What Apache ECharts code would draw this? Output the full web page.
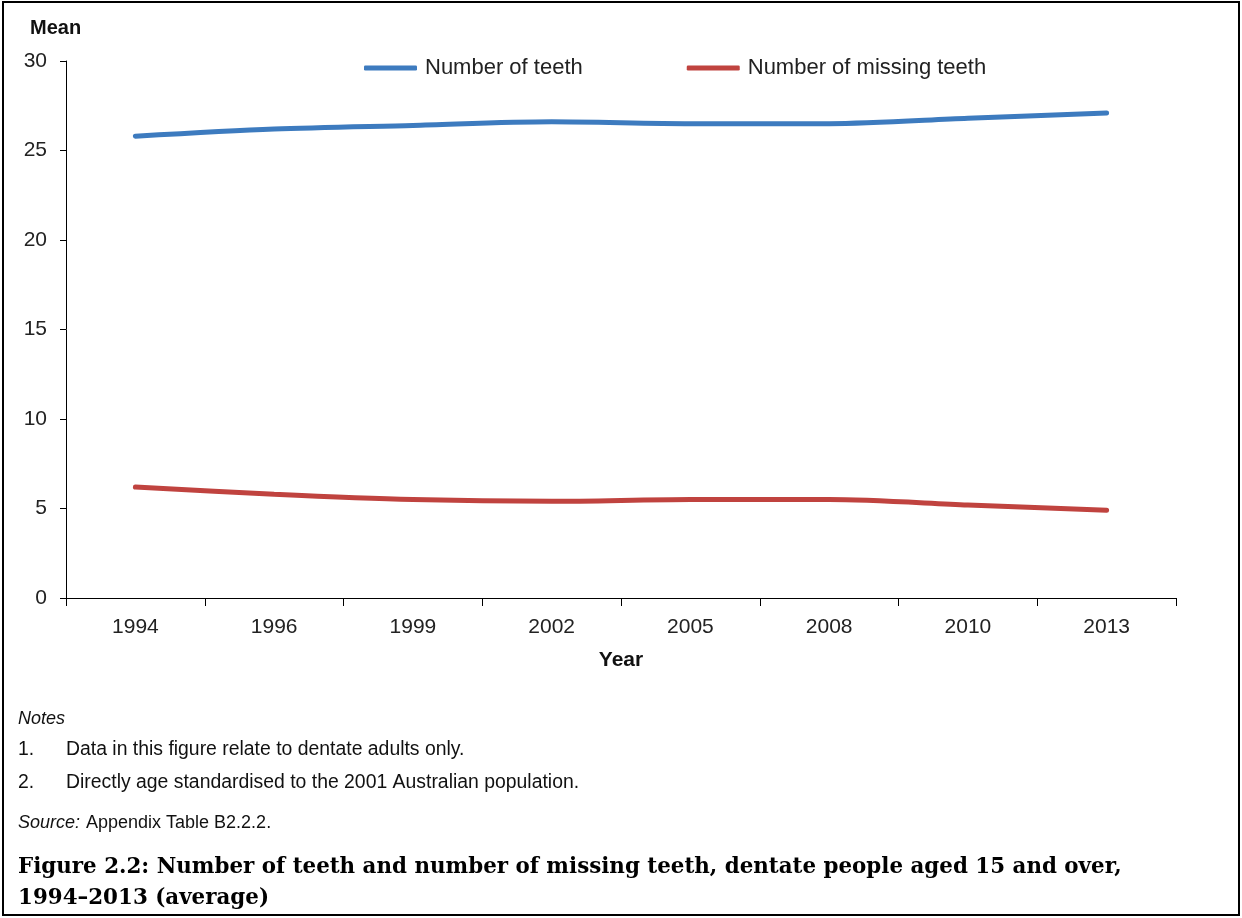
<!DOCTYPE html>
<html>
<head>
<meta charset="utf-8">
<script src="https://cdn.jsdelivr.net/npm/echarts@6/dist/echarts.min.js"></script>
<style>
  html, body { margin: 0; padding: 0; background: #fff; }
  #chart { width: 1242px; height: 918px; }
</style>
</head>
<body>
<div id="chart"></div>
<script>
const years = ['1994', '1996', '1999', '2002', '2005', '2008', '2010', '2013'];
const numberOfTeeth = [25.8, 26.2, 26.4, 26.6, 26.5, 26.5, 26.8, 27.1];
const numberOfMissingTeeth = [6.2, 5.8, 5.5, 5.4, 5.5, 5.5, 5.2, 4.9];
const seriesNames = ['Number of teeth', 'Number of missing teeth'];
const notes = [
  'Data in this figure relate to dentate adults only.',
  'Directly age standardised to the 2001 Australian population.'
];
const captionLines = [
  'Figure 2.2: Number of teeth and number of missing teeth, dentate people aged 15 and over,',
  '1994\u20132013 (average)'
];

const FONT = '"Liberation Sans", Arial, sans-serif';
const chart = echarts.init(document.getElementById('chart'), null, { renderer: 'canvas' });

const graphics = [
  { type: 'rect', shape: { x: 3, y: 2, width: 1236, height: 913 }, style: { fill: 'none', stroke: '#000', lineWidth: 2 }, silent: true },
  { type: 'text', x: 30, y: 28, style: { text: 'Mean', font: 'bold 20px ' + FONT, fill: '#111', textVerticalAlign: 'middle', verticalAlign: 'middle' } },
  { type: 'text', x: 18, y: 719, style: { text: 'Notes', font: 'italic 18px ' + FONT, fill: '#111', textVerticalAlign: 'middle', verticalAlign: 'middle' } }
];
notes.forEach(function (n, i) {
  const y = 750 + i * 33;
  graphics.push({ type: 'text', x: 18, y: y, style: { text: (i + 1) + '.', font: '19.4px ' + FONT, fill: '#111', textVerticalAlign: 'middle', verticalAlign: 'middle' } });
  graphics.push({ type: 'text', x: 66, y: y, style: { text: n, font: '19.4px ' + FONT, fill: '#111', textVerticalAlign: 'middle', verticalAlign: 'middle' } });
});
graphics.push({ type: 'text', x: 18, y: 823, style: { text: 'Source:', font: 'italic 18px ' + FONT, fill: '#111', textVerticalAlign: 'middle', verticalAlign: 'middle' } });
graphics.push({ type: 'text', x: 86, y: 823, style: { text: 'Appendix Table B2.2.2.', font: '18px ' + FONT, fill: '#111', textVerticalAlign: 'middle', verticalAlign: 'middle' } });
captionLines.forEach(function (c, i) {
  graphics.push({ type: 'text', x: 18, y: 867 + i * 31, style: { text: c, font: 'bold 21.4px "DejaVu Serif", serif', fill: '#000', textVerticalAlign: 'middle', verticalAlign: 'middle' } });
});

const option = {
  backgroundColor: '#fff',
  animation: false,
  textStyle: { fontFamily: FONT },
  grid: { left: 66, right: 66, top: 61, bottom: 320, containLabel: false },
  legend: {
    left: 359, top: 52,
    itemWidth: 53, itemHeight: 5, itemGap: 104,
    icon: 'roundRect',
    textStyle: { fontSize: 22, color: '#222', fontFamily: FONT, padding: [0, 0, 0, 3] },
    data: seriesNames
  },
  xAxis: {
    type: 'category',
    data: years,
    boundaryGap: true,
    axisLine: { show: true, lineStyle: { color: '#000', width: 1 } },
    axisTick: { show: true, inside: false, length: 8, alignWithLabel: false, lineStyle: { color: '#000' } },
    axisLabel: { fontSize: 21, color: '#222', margin: 19, fontFamily: FONT },
    splitLine: { show: false },
    name: 'Year',
    nameLocation: 'middle',
    nameGap: 52,
    nameTextStyle: { fontSize: 21, fontWeight: 'bold', color: '#111', fontFamily: FONT }
  },
  yAxis: {
    type: 'value',
    min: 0, max: 30, interval: 5,
    axisLine: { show: true, lineStyle: { color: '#000', width: 1 } },
    axisTick: { show: true, inside: false, length: 6, lineStyle: { color: '#000' } },
    axisLabel: { fontSize: 21, color: '#222', margin: 19, fontFamily: FONT },
    splitLine: { show: false }
  },
  series: [
    {
      name: seriesNames[0], type: 'line', data: numberOfTeeth,
      smooth: 0.3, symbol: 'none',
      lineStyle: { color: '#3d7bbf', width: 5, cap: 'round' },
      itemStyle: { color: '#3d7bbf' }
    },
    {
      name: seriesNames[1], type: 'line', data: numberOfMissingTeeth,
      smooth: 0.3, symbol: 'none',
      lineStyle: { color: '#c0433f', width: 5, cap: 'round' },
      itemStyle: { color: '#c0433f' }
    }
  ],
  graphic: graphics
};
chart.setOption(option);
</script>
</body>
</html>
